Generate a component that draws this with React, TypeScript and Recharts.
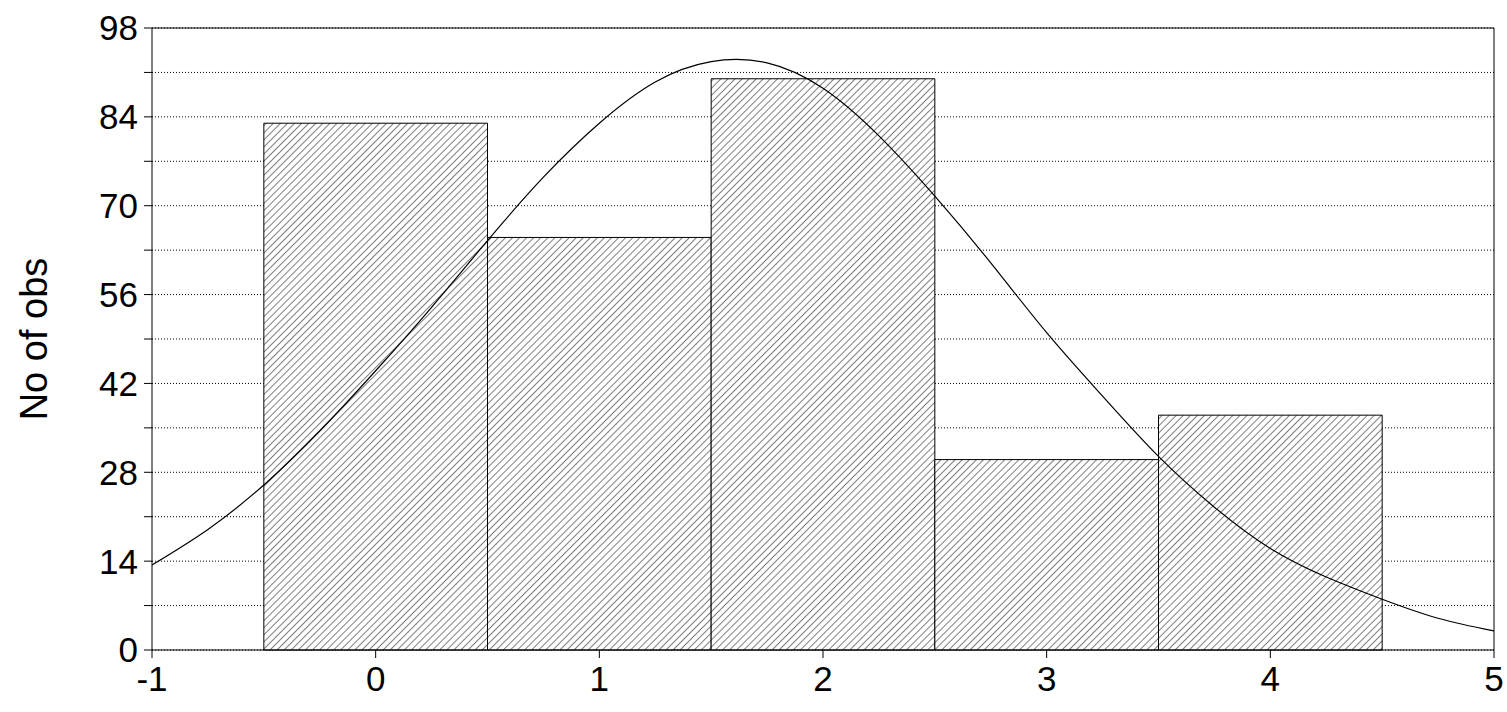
import React from "react";
import { ComposedChart, Line, XAxis, YAxis, CartesianGrid, ReferenceArea, ReferenceLine } from "recharts";

const bins = [0, 1, 2, 3, 4];
const counts = [83, 65, 90, 30, 37];
const curveX = [-1, -0.75, -0.5, -0.25, 0, 0.25, 0.5, 0.75, 1, 1.25, 1.5, 1.75, 2, 2.25, 2.5, 2.75, 3, 3.25, 3.5, 3.75, 4, 4.25, 4.5, 4.75, 5];
const curveY = [13.4, 19, 26, 34.5, 44, 54, 64.5, 74.5, 83, 89.5, 92.7, 92.5, 88.5, 81, 71.5, 61, 50, 40, 30.5, 22.5, 16, 11.5, 8, 5, 3];
const xTicks = [-1, 0, 1, 2, 3, 4, 5];
const yTicks = [0, 7, 14, 21, 28, 35, 42, 49, 56, 63, 70, 77, 84, 91, 98];

const curve = curveX.map((x, i) => ({ x, y: curveY[i] }));
const font = "Arial, 'Liberation Sans', sans-serif";

export default function App() {
  return (
    <div style={{ position: "absolute", left: 0, top: 0, background: "#fff" }}>
      <ComposedChart width={1507} height={712} data={curve} margin={{ top: 28, right: 13, bottom: 0, left: 0 }}>
        <defs>
          <pattern id="hatch" patternUnits="userSpaceOnUse" width="5" height="5" patternTransform="rotate(45)">
            <rect width="5" height="5" fill="#fff" />
            <line x1="0" y1="0" x2="0" y2="5" stroke="#000" strokeWidth="1" />
          </pattern>
        </defs>
        <CartesianGrid horizontal vertical={false} stroke="#000" strokeDasharray="1 2" />
        <XAxis
          dataKey="x"
          type="number"
          domain={[-1, 5]}
          ticks={xTicks}
          allowDataOverflow
          height={62}
          tick={{ fontSize: 35, fill: "#000", fontFamily: font }}
          tickSize={8}
          tickMargin={8}
          stroke="#000"
        />
        <YAxis
          type="number"
          domain={[0, 98]}
          ticks={yTicks}
          width={152}
          tickFormatter={(v) => (v % 14 === 0 ? String(v) : "")}
          tick={{ fontSize: 35, fill: "#000", fontFamily: font }}
          tickSize={8}
          tickMargin={6}
          stroke="#000"
          label={{ value: "No of obs", angle: -90, position: "insideLeft", offset: 34, style: { fontSize: 38, fill: "#000", fontFamily: font, textAnchor: "middle" } }}
        />
        <ReferenceLine y={98} stroke="#000" />
        <ReferenceLine x={5} stroke="#000" />
        {bins.map((b, i) => (
          <ReferenceArea key={b} x1={b - 0.5} x2={b + 0.5} y1={0} y2={counts[i]} fill="url(#hatch)" fillOpacity={1} stroke="#000" strokeWidth={1} ifOverflow="visible" />
        ))}
        <Line dataKey="y" type="natural" stroke="#000" strokeWidth={1.2} dot={false} isAnimationActive={false} />
      </ComposedChart>
    </div>
  );
}
